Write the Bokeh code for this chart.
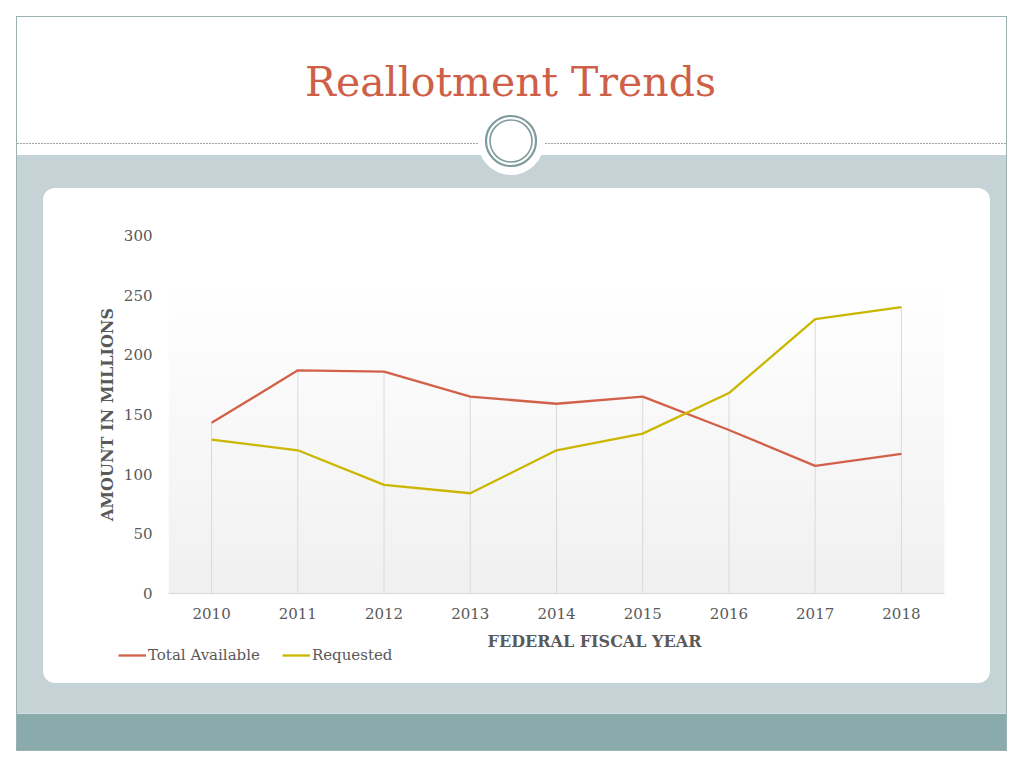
from urllib.parse import quote
from bokeh.plotting import figure
from bokeh.layouts import column
from bokeh.models import (FactorRange, Range1d, FixedTicker, BoxAnnotation,
                          Legend, LegendItem, Label)
from bokeh.embed import file_html
from bokeh.resources import INLINE

# ---- data ----
years = ["2010", "2011", "2012", "2013", "2014", "2015", "2016", "2017", "2018"]
total_available = [143, 187, 186, 165, 159, 165, 137, 107, 117]
requested = [129, 120, 91, 84, 120, 134, 168, 230, 240]
y_ticks = [0, 50, 100, 150, 200, 250, 300]

title_text = "Reallotment Trends"
y_title = "AMOUNT IN MILLIONS"
x_title = "FEDERAL FISCAL YEAR"
series_names = ["Total Available", "Requested"]

RED = "#d3614a"
YELLOW = "#cbb600"
TXT = "#595959"
FONT = "DejaVu Serif"

# ---- slide background (pure decoration, drawn as page CSS background) ----
svg_bg = (
    "<svg xmlns='http://www.w3.org/2000/svg' width='1024' height='768'>"
    "<rect x='0' y='0' width='1024' height='768' fill='#ffffff'/>"
    "<rect x='17' y='155' width='989' height='560' fill='#c5d3d6'/>"
    "<rect x='17' y='714' width='989' height='36' fill='#8aabab'/>"
    "<rect x='17' y='713' width='989' height='1' fill='#d3dee0'/>"
    "<line x1='17' y1='143.5' x2='1006' y2='143.5' stroke='#a3a3a3' stroke-width='1' stroke-dasharray='2 1'/>"
    "<circle cx='511' cy='142' r='33' fill='#ffffff'/>"
    "<circle cx='511' cy='141' r='25' fill='none' stroke='#7d9b9b' stroke-width='2.2'/>"
    "<circle cx='511' cy='141' r='21' fill='none' stroke='#7d9b9b' stroke-width='1.6'/>"
    "<rect x='43' y='188' width='947' height='495' rx='12' ry='12' fill='#ffffff'/>"
    "<rect x='16.5' y='16.5' width='990' height='734' fill='none' stroke='#9cb2b2' stroke-width='1'/>"
    "</svg>"
)
bg_url = "url(\"data:image/svg+xml;charset=utf-8," + quote(svg_bg) + "\")"

T_H = 160   # title strip (page y 0..160)
P_END = 625  # chart figure ends here; legend strip fills the rest


def strip(h):
    f = figure(width=1024, height=h, x_range=Range1d(0, 1024), y_range=Range1d(0, h),
               output_backend="svg", toolbar_location=None, x_axis_location=None,
               y_axis_location=None, min_border=0, border_fill_alpha=0,
               background_fill_alpha=0, outline_line_color=None, frame_align=False)
    f.xgrid.visible = False
    f.ygrid.visible = False
    return f


# ---- title strip ----
t = strip(T_H)
t.add_layout(Label(x=510, y=T_H - 81, x_units="screen", y_units="screen", text=title_text,
                   text_font=FONT, text_font_size="41px", text_color="#cf6048",
                   text_align="center", text_baseline="alphabetic"))

# ---- chart ----
p = figure(width=1024, height=P_END - T_H, x_range=FactorRange(factors=years),
           y_range=Range1d(0, 300), output_backend="svg", toolbar_location=None,
           min_border_left=168, min_border_right=80, min_border_top=235 - T_H,
           min_border_bottom=P_END - 593, border_fill_alpha=0,
           background_fill_color="white", outline_line_color=None, frame_align=False)
p.xgrid.visible = False
p.ygrid.visible = False

# plot-area gradient (white at top -> light gray at bottom)
n = 30
for i in range(n):
    lo = 260 * i / n
    hi = 260 * (i + 1) / n
    g = int(round(240 + 15 * (i / (n - 1))))
    col = "#%02x%02x%02x" % (g, g, g)
    p.add_layout(BoxAnnotation(bottom=lo, top=hi + 0.5, fill_color=col, fill_alpha=1,
                               line_color=None, level="underlay"))

tops = [max(a, b) for a, b in zip(total_available, requested)]
p.segment(x0=years, y0=[0] * len(years), x1=years, y1=tops, line_color="#d9d9d9", line_width=1)
p.line(x=years, y=total_available, line_color=RED, line_width=2.3)
p.line(x=years, y=requested, line_color=YELLOW, line_width=2.3)

xa = p.xaxis[0]
xa.axis_line_color = "#d9d9d9"
xa.major_tick_line_color = None
xa.minor_tick_line_color = None
xa.major_label_text_font = FONT
xa.major_label_text_font_size = "15px"
xa.major_label_text_color = TXT
xa.major_label_standoff = 8

ya = p.yaxis[0]
ya.ticker = FixedTicker(ticks=y_ticks)
ya.axis_line_color = None
ya.major_tick_line_color = None
ya.minor_tick_line_color = None
ya.major_label_text_font = FONT
ya.major_label_text_font_size = "15px"
ya.major_label_text_color = TXT
ya.major_label_standoff = 10
ya.axis_label = y_title
ya.axis_label_text_font = FONT
ya.axis_label_text_font_style = "bold"
ya.axis_label_text_font_size = "16px"
ya.axis_label_text_color = TXT
ya.axis_label_standoff = 4

# ---- legend strip with the x-axis title ----
LH = 768 - P_END
q = strip(LH)
nan = float("nan")
lr1 = q.line(x=[nan], y=[nan], line_color=RED, line_width=2.3)
lr2 = q.line(x=[nan], y=[nan], line_color=YELLOW, line_width=2.3)

q.add_layout(Label(x=594, y=768 - 641, x_units="screen", y_units="screen", text=x_title,
                   text_font=FONT, text_font_size="16px", text_font_style="bold",
                   text_color=TXT, text_align="center", text_baseline="middle"))

legend = Legend(items=[LegendItem(label=series_names[0], renderers=[lr1]),
                       LegendItem(label=series_names[1], renderers=[lr2])],
                orientation="horizontal", location=(118, 768 - 665), padding=0, margin=0,
                spacing=22, glyph_width=28, glyph_height=20, label_height=20,
                label_standoff=2, border_line_color=None, background_fill_alpha=0,
                label_text_font=FONT, label_text_font_size="15px",
                label_text_color=TXT)
q.add_layout(legend)

layout = column(t, p, q, spacing=0,
                styles={"background-image": bg_url, "background-repeat": "no-repeat",
                        "background-position": "0 0"})

open("out.html", "w").write(file_html(layout, INLINE))
